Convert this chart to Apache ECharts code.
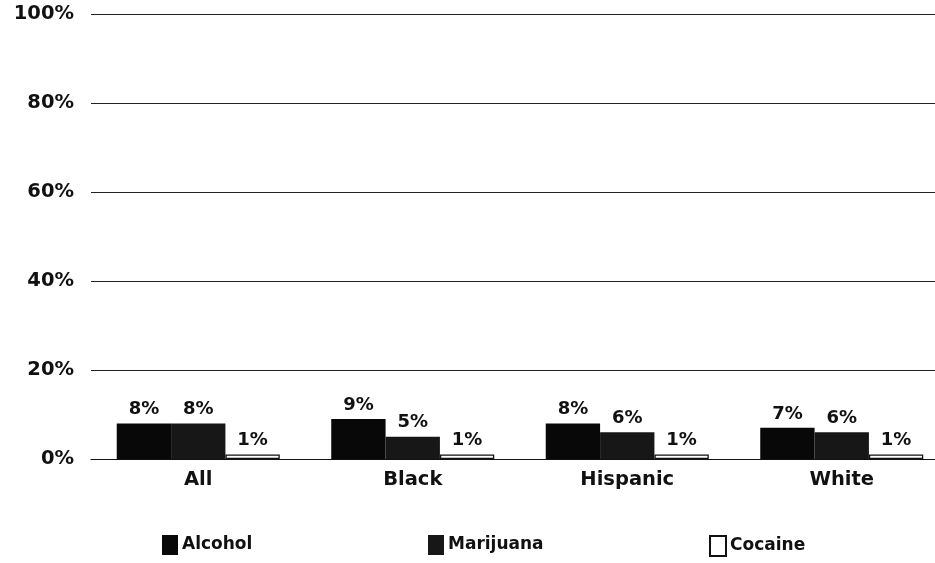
<!DOCTYPE html>
<html>
<head>
<meta charset="utf-8">
<script src="https://cdn.jsdelivr.net/npm/echarts@6/dist/echarts.min.js"></script>
<style>
  html, body { margin: 0; padding: 0; background: #fff; overflow: hidden; }
  /* the plot area runs a little past the right edge of the page */
  #chart { width: 949px; height: 563px; }
</style>
</head>
<body>
<div id="chart"></div>
<script>
// Share of each group reporting use, by substance
const categories = ['All', 'Black', 'Hispanic', 'White'];
const alcohol = [8, 9, 8, 7];
const marijuana = [8, 5, 6, 6];
const cocaine = [1, 1, 1, 1];
const yTicks = [0, 20, 40, 60, 80, 100];

const FONT = '"DejaVu Sans", "Liberation Sans", Arial, sans-serif';

const labelStyle = {
  show: true,
  position: 'top',
  distance: 5,
  formatter: '{c}%',
  color: '#111',
  fontFamily: FONT,
  fontWeight: 'bold',
  fontSize: 18
};

function legendAt(name, left) {
  return {
    data: [name],
    left: left,
    top: 535,
    padding: 0,
    itemWidth: 16,
    itemHeight: 20,
    itemGap: 0,
    icon: 'rect',
    textStyle: {
      fontFamily: FONT,
      fontWeight: 'bold',
      fontSize: 17,
      color: '#111',
      padding: [0, 0, 0, -1]
    }
  };
}

const chart = echarts.init(document.getElementById('chart'), null, { renderer: 'canvas' });
chart.setOption({
  animation: false,
  backgroundColor: '#fff',
  grid: { left: 91, top: 14, right: 0, bottom: 104, containLabel: false },
  legend: [
    legendAt('Alcohol', 162),
    legendAt('Marijuana', 428),
    legendAt('Cocaine', 709)
  ],
  xAxis: {
    type: 'category',
    data: categories,
    axisLine: { show: true, lineStyle: { color: '#111', width: 1.2 } },
    axisTick: { show: false },
    axisLabel: {
      color: '#111',
      fontFamily: FONT,
      fontWeight: 'bold',
      fontSize: 19.5,
      margin: 11
    }
  },
  yAxis: {
    type: 'value',
    min: yTicks[0],
    max: yTicks[yTicks.length - 1],
    interval: 20,
    axisLine: { show: false },
    axisTick: { show: false },
    splitLine: { show: true, lineStyle: { color: '#222', width: 1 } },
    axisLabel: {
      formatter: '{value}%',
      color: '#111',
      fontFamily: FONT,
      fontWeight: 'bold',
      fontSize: 19.5,
      margin: 17
    }
  },
  series: [
    {
      name: 'Alcohol',
      type: 'bar',
      data: alcohol,
      barGap: '0%',
      barCategoryGap: '24%',
      itemStyle: { color: '#080808' },
      label: labelStyle
    },
    {
      name: 'Marijuana',
      type: 'bar',
      data: marijuana,
      itemStyle: { color: '#171717' },
      label: labelStyle
    },
    {
      name: 'Cocaine',
      type: 'bar',
      data: cocaine,
      itemStyle: { color: '#ffffff', borderColor: '#111', borderWidth: 1.3 },
      label: labelStyle
    }
  ]
});
</script>
</body>
</html>
